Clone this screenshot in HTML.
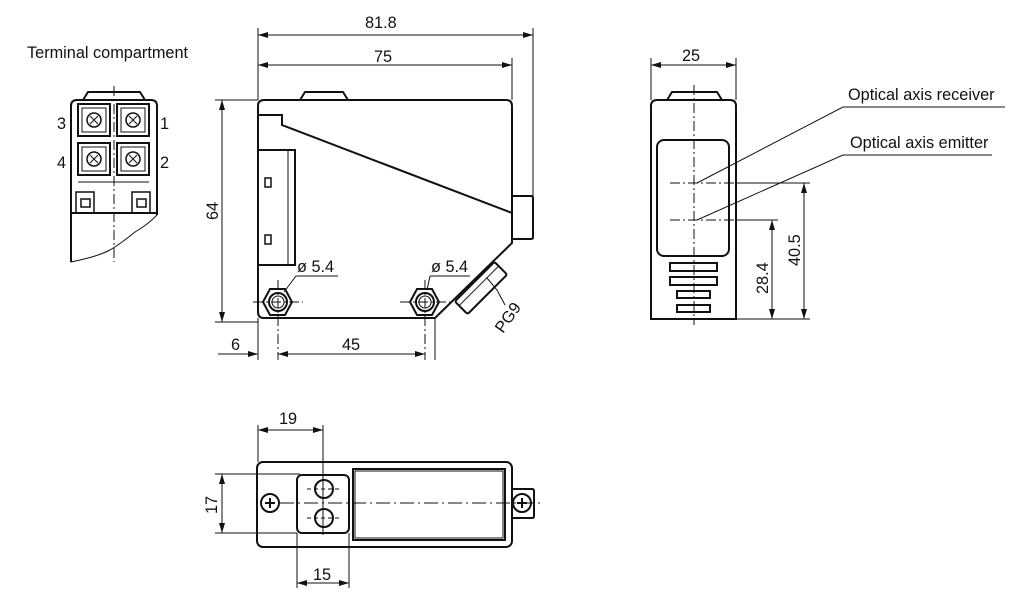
<!DOCTYPE html>
<html><head><meta charset="utf-8"><style>body{margin:0;background:#fff}svg{display:block}text{font-family:"Liberation Sans",sans-serif;fill:#111}</style></head><body>
<svg width="1024" height="600" viewBox="0 0 1024 600" xmlns="http://www.w3.org/2000/svg">
<defs>
<marker id="a" viewBox="0 0 10 6" refX="10" refY="3" markerWidth="10" markerHeight="6" orient="auto-start-reverse" markerUnits="userSpaceOnUse"><path d="M0,0L10,3L0,6z" fill="#111"/></marker>
</defs>
<g fill="none" stroke="#111" stroke-width="1">
<!-- Terminal compartment -->
<path d="M83,100 L88,92 L140,92 L145,100" stroke-width="2"/>
<path d="M71,262 L71,106 Q71,100 77,100 L151,100 Q157,100 157,106 L157,215" stroke-width="2"/>
<path d="M71,213 L157,213" stroke-width="2"/>
<path d="M71,262 C90,258 100,255 110,250 C120,244 125,240 135,232 C145,226 150,222 157,215"/>
<rect x="78" y="104" width="32" height="32" stroke-width="2"/><rect x="82" y="108" width="24" height="24"/>
<rect x="117" y="104" width="32" height="32" stroke-width="2"/><rect x="121" y="108" width="24" height="24"/>
<rect x="78" y="143" width="32" height="32" stroke-width="2"/><rect x="82" y="147" width="24" height="24"/>
<rect x="117" y="143" width="32" height="32" stroke-width="2"/><rect x="121" y="147" width="24" height="24"/>
<circle cx="94" cy="120" r="7" stroke-width="1.5"/><circle cx="133" cy="120" r="7" stroke-width="1.5"/>
<circle cx="94" cy="159" r="7" stroke-width="1.5"/><circle cx="133" cy="159" r="7" stroke-width="1.5"/>
<path d="M90,116l8,8M98,116l-8,8M129,116l8,8M137,116l-8,8M90,155l8,8M98,155l-8,8M129,155l8,8M137,155l-8,8"/>
<path d="M78,182 L149,182"/>
<rect x="76" y="192" width="18" height="21" stroke-width="1.5"/><rect x="81" y="199" width="9" height="8" stroke-width="1.5"/>
<rect x="132" y="192" width="18" height="21" stroke-width="1.5"/><rect x="137" y="199" width="9" height="8" stroke-width="1.5"/>
<path d="M114,86 L114,262" stroke-dasharray="10,3,2,3"/>

<!-- Side view -->
<path d="M300,100 L305,92 L343,92 L348,100" stroke-width="2"/>
<path d="M264,100 L506,100 Q512,100 512,106 L512,243 L435,318 L264,318 Q258,318 258,312 L258,106 Q258,100 264,100Z" stroke-width="2"/>
<path d="M258,115 L282,115 L282,125 L512,213" stroke-width="2"/>
<path d="M258,150 L295,150 L295,265 L258,265" stroke-width="2"/><path d="M288,150 L288,265"/>
<rect x="265" y="178" width="6" height="9" stroke-width="1.5"/><rect x="265" y="235" width="6" height="9" stroke-width="1.5"/>
<path d="M512,196 L531,196 Q533,196 533,198 L533,237 Q533,239 531,239 L512,239" stroke-width="2"/>
<g transform="translate(481,288) rotate(-45)" stroke-width="2"><rect x="-28" y="-9" width="56" height="18" rx="2"/><path d="M-28,-3 L28,-3" stroke-width="1"/></g>
<polygon points="263,302 270,289 285,289 292,302 285,315 270,315" stroke-width="2"/><circle cx="278" cy="302" r="9" stroke-width="2"/><circle cx="278" cy="302" r="6"/>
<polygon points="410,302 417,289 432,289 439,302 432,315 417,315" stroke-width="2"/><circle cx="425" cy="302" r="9" stroke-width="2"/><circle cx="425" cy="302" r="6"/>
<path d="M253,302 L303,302 M278,280 L278,360 M400,302 L450,302 M425,280 L425,360" stroke-dasharray="10,3,2,3"/>
<path d="M296,276 L338,276 M296,276 L284,292 M430,276 L470,276 M430,276 L427,290"/>
<path d="M487,278 L497,290 L505,305"/>
<!-- dims side -->
<path d="M258,28 L258,100 M533,28 L533,196 M512,58 L512,100"/>
<path d="M258,35 L533,35" marker-start="url(#a)" marker-end="url(#a)"/>
<path d="M258,65 L512,65" marker-start="url(#a)" marker-end="url(#a)"/>
<path d="M215,100 L258,100 M215,322 L258,322"/>
<path d="M222,100 L222,322" marker-start="url(#a)" marker-end="url(#a)"/>
<path d="M258,318 L258,360 M435,318 L435,360"/>
<path d="M218,354 L258,354" marker-end="url(#a)"/>
<path d="M278,354 L425,354" marker-start="url(#a)" marker-end="url(#a)"/>

<!-- Front view -->
<path d="M667,100 L672,92 L717,92 L722,100" stroke-width="2"/>
<path d="M651,319 L651,106 Q651,100 657,100 L730,100 Q736,100 736,106 L736,319 Z" stroke-width="2"/>
<rect x="657" y="140" width="72" height="116" rx="7" stroke-width="2"/>
<rect x="670" y="263" width="47" height="8" stroke-width="2"/>
<rect x="670" y="277" width="47" height="8" stroke-width="2"/>
<rect x="677" y="291" width="33" height="7" stroke-width="2"/>
<rect x="677" y="305" width="33" height="7" stroke-width="2"/>
<path d="M694,85 L694,325" stroke-dasharray="10,3,2,3"/>
<path d="M670,183 L736,183 M670,220 L736,220" stroke-dasharray="10,3,2,3"/>
<path d="M736,183 L810,183 M736,220 L778,220 M736,319 L810,319"/>
<path d="M772,220 L772,319" marker-start="url(#a)" marker-end="url(#a)"/>
<path d="M804,183 L804,319" marker-start="url(#a)" marker-end="url(#a)"/>
<path d="M697,183 L843,107 L1005,107 M697,220 L843,155 L992,155"/>
<path d="M651,58 L651,100 M736,58 L736,100"/>
<path d="M651,65 L736,65" marker-start="url(#a)" marker-end="url(#a)"/>

<!-- Bottom view -->
<rect x="257" y="462" width="255" height="85" rx="6" stroke-width="2"/>
<rect x="297" y="475" width="52" height="58" rx="5" stroke-width="2"/>
<rect x="353" y="469" width="152" height="71" stroke-width="2"/><rect x="355" y="471" width="148" height="67"/>
<path d="M512,489 L532,489 Q534,489 534,491 L534,516 Q534,518 532,518 L512,518" stroke-width="2"/>
<circle cx="270" cy="503" r="9" stroke-width="2"/><path d="M265,503h10M270,498v10" stroke-width="2"/>
<circle cx="522" cy="503" r="9" stroke-width="2"/><path d="M517,503h10M522,498v10" stroke-width="2"/>
<circle cx="324" cy="489" r="9" stroke-width="2"/><circle cx="324" cy="518" r="9" stroke-width="2"/>
<path d="M307,489h34M307,518h34" stroke-dasharray="4,3"/>
<path d="M280,503 L540,503" stroke-dasharray="14,4,2,4"/>
<path d="M258,425 L258,462 M323,425 L323,535"/>
<path d="M258,430 L323,430" marker-start="url(#a)" marker-end="url(#a)"/>
<path d="M215,474 L300,474 M215,533 L297,533"/>
<path d="M222,474 L222,533" marker-start="url(#a)" marker-end="url(#a)"/>
<path d="M297,533 L297,588 M349,533 L349,588"/>
<path d="M297,583 L349,583" marker-start="url(#a)" marker-end="url(#a)"/>
</g>
<g font-size="16.3">
<text x="27" y="58">Terminal compartment</text>
<text x="57" y="129">3</text><text x="160" y="129">1</text>
<text x="57" y="168">4</text><text x="160" y="168">2</text>
<text x="365" y="28">81.8</text>
<text x="374" y="62">75</text>
<text x="0" y="0" transform="translate(218,220) rotate(-90)">64</text>
<text x="231" y="350">6</text>
<text x="342" y="350">45</text>
<text x="297" y="272">ø 5.4</text>
<text x="431" y="272">ø 5.4</text>
<text x="0" y="0" transform="translate(503,334) rotate(-55)">PG9</text>
<text x="682" y="61">25</text>
<text x="848" y="100">Optical axis receiver</text>
<text x="850" y="148">Optical axis emitter</text>
<text x="0" y="0" transform="translate(768,294) rotate(-90)">28.4</text>
<text x="0" y="0" transform="translate(800,266) rotate(-90)">40.5</text>
<text x="279" y="424">19</text>
<text x="0" y="0" transform="translate(217,514) rotate(-90)">17</text>
<text x="313" y="580">15</text>
</g>
</svg>
</body></html>
